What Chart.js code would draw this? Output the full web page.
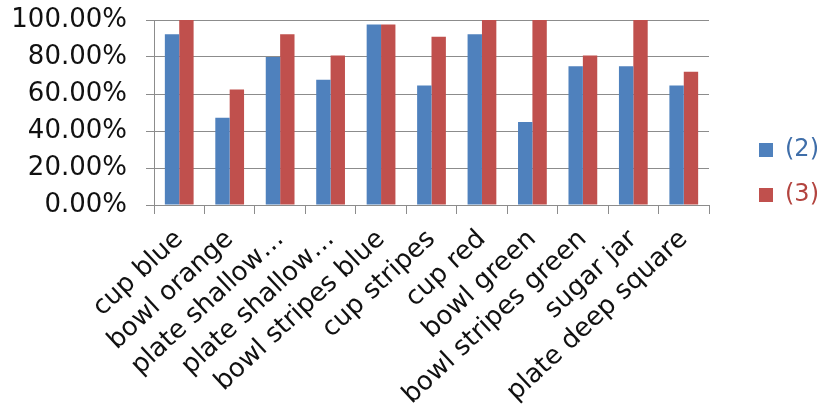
<!DOCTYPE html>
<html>
<head>
<meta charset="utf-8">
<title>Share per item</title>
<script src="https://cdn.jsdelivr.net/npm/chart.js@4/dist/chart.umd.min.js"></script>
<style>
  html, body { margin: 0; padding: 0; background: #ffffff; }
  #wrap { width: 822px; height: 405px; }
</style>
</head>
<body>
<div id="wrap"><canvas id="chart" width="822" height="405"></canvas></div>
<script>
// Item names along the category axis
const categories = [
  'cup blue', 'bowl orange', 'plate shallow…', 'plate shallow…',
  'bowl stripes blue', 'cup stripes', 'cup red', 'bowl green',
  'bowl stripes green', 'sugar jar', 'plate deep square'
];

// Series names shown in the legend
const seriesNames = ['(2)', '(3)'];

// Percentages per item for each series
const series2 = [92.3, 47.1, 80.0, 67.7, 97.6, 64.6, 92.3, 44.9, 75.0, 75.0, 64.6];
const series3 = [100, 62.5, 92.3, 80.8, 97.6, 91.0, 100, 100, 80.8, 100, 72.0];

// Value axis ticks
const yTicks = [0, 20, 40, 60, 80, 100];

const seriesColors = ['#4F81BD', '#C0504D'];
const legendTextColors = ['#3f6ea9', '#b3443f'];
const gridColor = '#8c8c8c';
const fontFamily = "'DejaVu Sans', 'Liberation Sans', Arial, sans-serif";

// Moves the right-hand legend block so it sits beside the bars
const legendNudge = {
  id: 'legendNudge',
  afterLayout(chart, args, opts) {
    const lg = chart.legend;
    if (!lg) return;
    lg.top += opts.dy;
    lg.bottom += opts.dy;
    lg.left += opts.dx;
    lg.right += opts.dx;
  }
};

new Chart(document.getElementById('chart'), {
  type: 'bar',
  data: {
    labels: categories,
    datasets: [
      { label: seriesNames[0], data: series2, backgroundColor: seriesColors[0], borderWidth: 0,
        categoryPercentage: 0.57, barPercentage: 1.0 },
      { label: seriesNames[1], data: series3, backgroundColor: seriesColors[1], borderWidth: 0,
        categoryPercentage: 0.57, barPercentage: 1.0 }
    ]
  },
  plugins: [legendNudge],
  options: {
    responsive: false,
    devicePixelRatio: 1,
    animation: false,
    layout: { padding: { top: 20, right: 22, bottom: 0, left: 0 } },
    plugins: {
      legendNudge: { dx: 29, dy: -40 },
      tooltip: { enabled: false },
      legend: {
        position: 'right',
        align: 'center',
        labels: {
          boxWidth: 14,
          boxHeight: 14,
          padding: 21,
          font: { family: fontFamily, size: 24 },
          generateLabels(chart) {
            const items = Chart.defaults.plugins.legend.labels.generateLabels(chart);
            items.forEach((it, i) => { it.fontColor = legendTextColors[i]; it.lineWidth = 0; });
            return items;
          }
        }
      }
    },
    scales: {
      x: {
        grid: { display: true, drawOnChartArea: false, drawTicks: true, tickLength: 9, color: gridColor, offset: true },
        border: { color: gridColor, width: 1 },
        ticks: {
          autoSkip: false, minRotation: 43, maxRotation: 43, padding: 10,
          color: '#111111', font: { family: fontFamily, size: 26 }
        },
        afterFit(scale) { scale.height = 200; }
      },
      y: {
        min: 0, max: 100,
        afterBuildTicks(scale) { scale.ticks = yTicks.map(v => ({ value: v })); },
        grid: { color: gridColor, tickLength: 8, drawTicks: true },
        border: { color: gridColor, width: 1 },
        ticks: {
          autoSkip: false,
          padding: 19, color: '#111111', font: { family: fontFamily, size: 26 },
          callback: v => v.toFixed(2) + '%'
        },
        afterFit(scale) {
          scale.width = 154;
          scale.paddingTop = 12;
          scale.paddingBottom = 12;
        }
      }
    }
  }
});
</script>
</body>
</html>
